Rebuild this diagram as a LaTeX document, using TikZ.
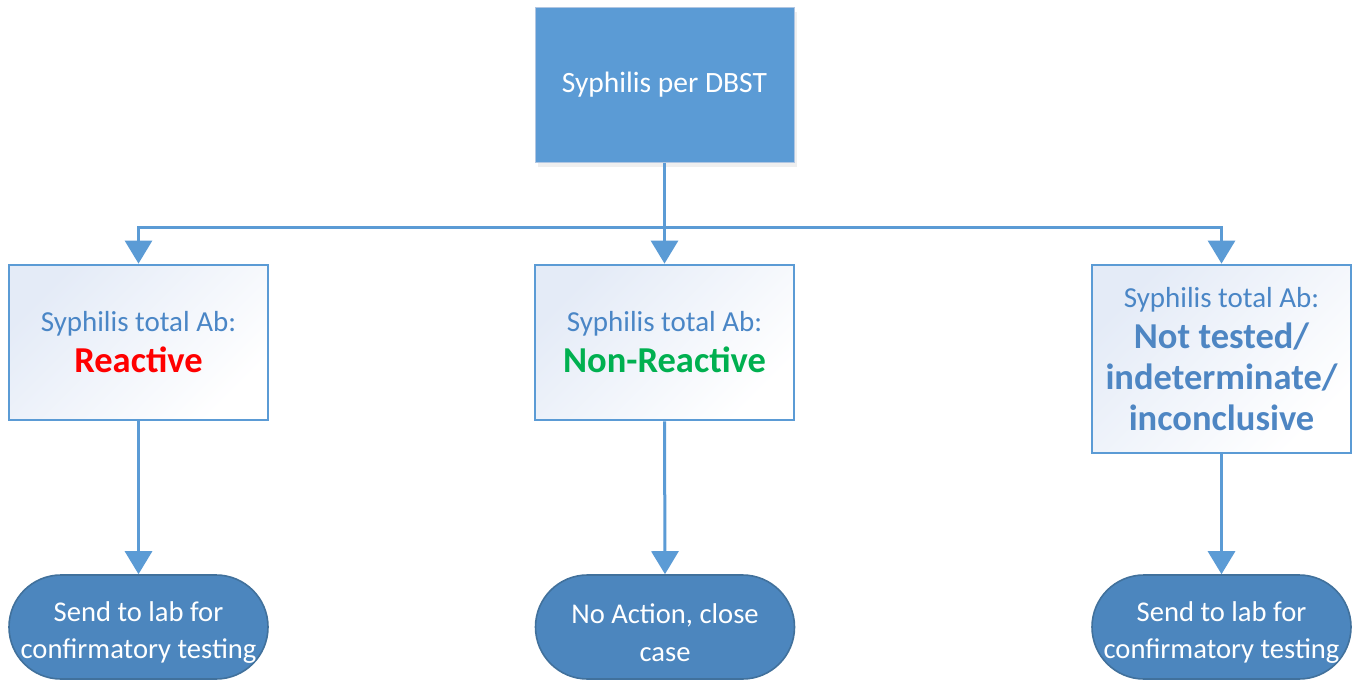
\documentclass[tikz,border=0pt]{standalone}
\usepackage{fontspec}
\setmainfont{Carlito}
\usetikzlibrary{arrows.meta,shadows}
\definecolor{mainblue}{HTML}{5B9BD5}
\definecolor{topedge}{HTML}{B0C6E2}
\definecolor{txtblue}{HTML}{4A86C6}
\definecolor{boldblue}{HTML}{4E86C3}
\definecolor{ovalfill}{HTML}{4C86BE}
\definecolor{ovaledge}{HTML}{41719C}
\definecolor{shadeblue}{HTML}{E4EBF7}
\definecolor{resgreen}{HTML}{00B050}
\definecolor{resred}{HTML}{FF0000}
\tikzset{
  topbox/.style={draw=topedge, line width=1pt, fill=mainblue, text=white,
    minimum width=259pt, minimum height=155pt, inner sep=0pt,
    font=\fontsize{29.5}{34}\selectfont,
    drop shadow={opacity=0.12, shadow xshift=3pt, shadow yshift=-5pt}},
  resbox/.style={draw=mainblue, line width=2.8pt, left color=shadeblue, right color=white,
    shading angle=45, minimum width=259pt, minimum height=155pt, inner sep=0pt,
    align=center, text=txtblue, font=\fontsize{29}{41}\selectfont},
  endoval/.style={draw=ovaledge, line width=1.6pt, fill=ovalfill, text=white,
    minimum width=259pt, minimum height=104pt, rounded corners=52pt, inner sep=0pt,
    align=center, font=\fontsize{28.6}{37.5}\selectfont},
  arr/.style={draw=mainblue, line width=3pt,
    -{Triangle[width=27pt,length=23pt]}}
}
\newcommand{\bigb}[1]{{\bfseries\fontsize{36.5}{43.5}\selectfont #1}}
\newcommand{\tallstrut}{\rule{0pt}{31pt}}
\begin{document}
\begin{tikzpicture}[x=1pt,y=-1pt]
\useasboundingbox[fill=white] (0,0) rectangle (1359,680);
\node[topbox] (top) at (664.5,84.5) {\raisebox{-2pt}{Syphilis per DBST}};
\node[resbox] (left) at (138.5,342.5) {Syphilis total Ab:\\\textcolor{resred}{\bigb{Reactive}}};
\node[resbox] (mid) at (664.5,342.5) {Syphilis total Ab:\\\textcolor{resgreen}{\bigb{Non-Reactive}}};
\node[resbox, minimum height=188pt, text=txtblue] (right) at (1221.5,359) {Syphilis total Ab:\\\textcolor{boldblue}{\bigb{Not tested/}}\\\textcolor{boldblue}{\bigb{indeterminate/}}\\\textcolor{boldblue}{\bigb{inconclusive}}};
\node[endoval] (o1) at (138.5,627) {\tallstrut Send to lab for\\confirmatory testing};
\node[endoval] (o2) at (665,627) {\tallstrut No Action, close\\case};
\node[endoval] (o3) at (1221.5,627) {\tallstrut Send to lab for\\confirmatory testing};
\coordinate (bus) at (664.5,227);
\draw[arr] (top.south) -- (mid.north);
\draw[arr] (bus) -| (left.north);
\draw[arr] (bus) -| (right.north);
\draw[arr] (left.south) -- (o1.north);
\draw[arr] (mid.south) -- (o2.north);
\draw[arr] (right.south) -- (o3.north);
\end{tikzpicture}
\end{document}
